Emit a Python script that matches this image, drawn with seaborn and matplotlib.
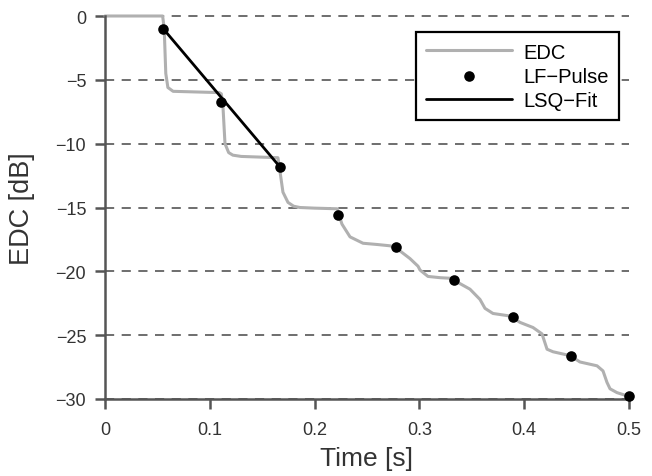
import numpy as np
import pandas as pd
import matplotlib
matplotlib.use("Agg")
import matplotlib.pyplot as plt
import seaborn as sns

# EDC curve
edc_t = [0.0, 0.055, 0.0565, 0.058, 0.060, 0.065, 0.109, 0.111, 0.1125, 0.1145,
         0.118, 0.122, 0.130, 0.165, 0.1665, 0.1698, 0.1746, 0.180, 0.186, 0.200,
         0.2214, 0.2261, 0.2338, 0.2462, 0.260, 0.2719, 0.2767, 0.2910, 0.2987, 0.3006,
         0.3082, 0.3200, 0.3311, 0.3330, 0.3483, 0.3578, 0.3626, 0.3702, 0.3865, 0.3884,
         0.3960, 0.4084, 0.4170, 0.4218, 0.4275, 0.4437, 0.4532, 0.4695, 0.4752, 0.4790,
         0.4819, 0.4885, 0.5000]
edc_db = [0.0, 0.0, -1.0, -4.5, -5.6, -5.9, -6.0, -6.1, -7.0, -10.0,
          -10.7, -10.9, -11.0, -11.1, -11.9, -13.8, -14.6, -14.9, -15.0, -15.05,
          -15.1, -16.3, -17.3, -17.8, -17.9, -18.0, -18.1, -19.0, -19.6, -19.9,
          -20.4, -20.5, -20.55, -20.7, -21.4, -22.2, -22.9, -23.3, -23.5, -23.6,
          -24.0, -24.4, -24.9, -26.1, -26.3, -26.6, -27.1, -27.4, -27.8, -28.7,
          -29.2, -29.5, -29.8]

# LF pulses
pulse_t = [0.0556, 0.1111, 0.1667, 0.2222, 0.2778, 0.3333, 0.3889, 0.4444, 0.5]
pulse_db = [-1.0, -6.75, -11.8, -15.6, -18.1, -20.65, -23.55, -26.6, -29.8]

# LSQ fit endpoints
fit_t = [0.0556, 0.1667]
fit_db = [-1.0, -11.8]

xticks = [0, 0.1, 0.2, 0.3, 0.4, 0.5]
xticklabels = ["0", "0.1", "0.2", "0.3", "0.4", "0.5"]
yticks = [0, -5, -10, -15, -20, -25, -30]
yticklabels = ["0", "\u22125", "\u221210", "\u221215", "\u221220", "\u221225", "\u221230"]

sns.set_theme(style="white")
plt.rcParams["font.family"] = ["Liberation Sans", "DejaVu Sans"]

dark = "#555555"
fig = plt.figure(figsize=(6.52, 4.77), dpi=100)
ax = fig.add_axes([105 / 652, 1 - 400 / 477, 524 / 652, 383 / 477])

edc_df = pd.DataFrame({"t": edc_t, "db": edc_db})
pulse_df = pd.DataFrame({"t": pulse_t, "db": pulse_db})
fit_df = pd.DataFrame({"t": fit_t, "db": fit_db})

for y in yticks:
    ax.axhline(y, color=dark, lw=1.2, ls=(0, (5.5, 4.5)), zorder=0.5, clip_on=False)

sns.lineplot(data=edc_df, x="t", y="db", ax=ax, color="#b0b0b0", lw=2.2,
             label="EDC", estimator=None, sort=False, clip_on=False, zorder=2)
sns.scatterplot(data=pulse_df, x="t", y="db", ax=ax, color="black", s=58,
                edgecolor="black", linewidth=0, label="LF\u2212Pulse", zorder=4,
                clip_on=False)
sns.lineplot(data=fit_df, x="t", y="db", ax=ax, color="black", lw=2.0,
             label="LSQ\u2212Fit", estimator=None, sort=False, zorder=3)

ax.set_xlim(0, 0.5)
ax.set_ylim(-30, 0)
ax.set_xticks(xticks)
ax.set_xticklabels(xticklabels)
ax.set_yticks(yticks)
ax.set_yticklabels(yticklabels)
ax.grid(False)

for s in ["top", "right"]:
    ax.spines[s].set_visible(False)
for s in ["left", "bottom"]:
    ax.spines[s].set_color(dark)
    ax.spines[s].set_linewidth(1.8)

ax.tick_params(axis="both", direction="out", length=7.5, width=1.8, color=dark,
               labelsize=13, labelcolor="#333333", left=True, bottom=True)
ax.tick_params(axis="x", pad=8)
ax.tick_params(axis="y", pad=6)
ax.set_xlabel("Time [s]", fontsize=19, color="#333333", labelpad=6)
ax.set_ylabel("EDC [dB]", fontsize=19.5, color="#333333", labelpad=15)

leg = ax.legend(loc="upper right", bbox_to_anchor=(0.981, 0.957), borderaxespad=0,
                frameon=True, fancybox=False, fontsize=14.5, handlelength=4.3,
                handletextpad=0.55, labelspacing=0.25, borderpad=0.5)
leg.get_frame().set_edgecolor("black")
leg.get_frame().set_linewidth(1.6)
leg.get_frame().set_alpha(1)
for t in leg.get_texts():
    t.set_color("black")

fig.savefig("out.png", dpi=100)
